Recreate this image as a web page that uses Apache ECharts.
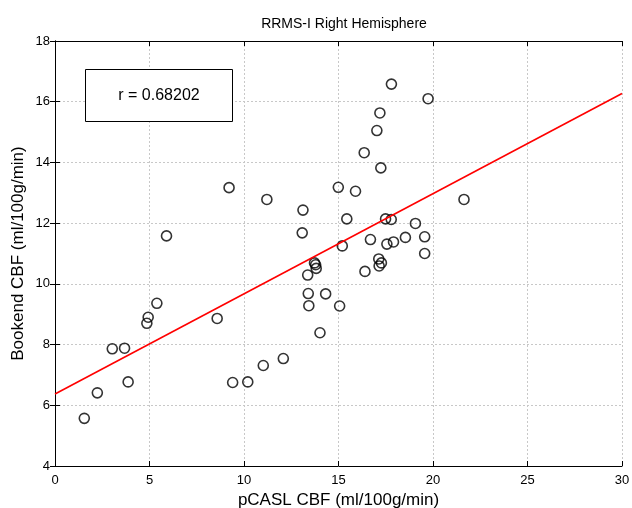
<!DOCTYPE html>
<html>
<head>
<meta charset="utf-8">
<script src="https://cdn.jsdelivr.net/npm/echarts@6/dist/echarts.min.js"></script>
<style>html,body{margin:0;padding:0;background:#fff}#c{width:632px;height:508px}</style>
</head>
<body>
<div id="c"></div>
<script>
var pcaslX = [1.55, 2.24, 3.03, 3.68, 3.87, 4.86, 4.93, 5.39, 5.90, 8.58, 9.40, 9.21, 10.20, 11.02, 11.21, 12.08,
  13.12, 13.08, 13.37, 13.40, 13.43, 13.73, 13.79, 13.82, 14.02, 14.32, 14.99, 15.06, 15.20, 15.44, 15.90,
  16.36, 16.40, 16.69, 17.03, 17.13, 17.15, 17.19, 17.24, 17.27, 17.49, 17.56, 17.79, 17.80, 17.91, 18.54,
  19.07, 19.56, 19.56, 19.74, 21.64];
var bookendY = [5.57, 6.41, 7.86, 7.88, 6.77, 8.70, 8.90, 9.36, 11.58, 8.86, 6.75, 13.17, 6.77, 7.31, 12.78, 7.54,
  12.43, 11.68, 10.29, 9.68, 9.28, 10.69, 10.63, 10.51, 8.39, 9.67, 13.18, 9.27, 11.25, 12.14, 13.05,
  14.32, 10.41, 11.46, 15.05, 10.82, 10.59, 15.63, 13.82, 10.69, 12.14, 11.31, 12.12, 16.58, 11.38, 11.53,
  11.99, 11.55, 11.00, 16.10, 12.78];
var fitX = [0, 30];
var fitY = [6.37, 16.27];
var xTicks = [0, 5, 10, 15, 20, 25, 30];
var yTicks = [4, 6, 8, 10, 12, 14, 16, 18];
var rLabel = 'r = 0.68202';

var font = 'Liberation Sans, Arial, sans-serif';
var pts = pcaslX.map(function (x, i) { return [x, bookendY[i]]; });
var fit = fitX.map(function (x, i) { return [x, fitY[i]]; });

var chart = echarts.init(document.getElementById('c'));
var gridLeft = 55, gridTop = 41, gridRight = 10, gridBottom = 42;
var axisBase = {
  type: 'value',
  axisLine: { show: true, lineStyle: { color: '#000', width: 1 } },
  axisTick: { show: true, inside: true, length: 5, lineStyle: { color: '#000' } },
  splitLine: { show: false },
  axisLabel: { show: false }
};
chart.setOption({
  backgroundColor: '#fff',
  animation: false,
  title: {
    text: 'RRMS-I Right Hemisphere',
    left: 339, top: 12, textAlign: 'center',
    textStyle: { fontFamily: font, fontSize: 14, fontWeight: 'normal', color: '#000' }
  },
  grid: { left: gridLeft, top: gridTop, right: gridRight, bottom: gridBottom, containLabel: false, outerBoundsMode: 'none' },
  xAxis: [
    Object.assign({}, axisBase, {
      min: 0, max: 30, interval: 5, position: 'bottom',
      axisLabel: { show: true, fontFamily: font, fontSize: 13, color: '#000', margin: 8,
        formatter: function (v) { return xTicks.indexOf(v) >= 0 ? String(v) : ''; } },
      splitLine: { show: true, lineStyle: { color: '#c8c8c8', type: [2, 2], width: 1 } },
      name: 'pCASL CBF (ml/100g/min)', nameLocation: 'middle', nameGap: 24,
      nameTextStyle: { fontFamily: font, fontSize: 17, color: '#000' }
    }),
    Object.assign({}, axisBase, { min: 0, max: 30, interval: 5, position: 'top' })
  ],
  yAxis: [
    Object.assign({}, axisBase, {
      min: 4, max: 18, interval: 2, position: 'left',
      axisLabel: { show: true, fontFamily: font, fontSize: 13, color: '#000', margin: 5,
        formatter: function (v) { return yTicks.indexOf(v) >= 0 ? String(v) : ''; } },
      splitLine: { show: true, lineStyle: { color: '#c8c8c8', type: [2, 2], width: 1 } },
      name: 'Bookend CBF (ml/100g/min)', nameLocation: 'middle', nameGap: 28, nameMoveOverlap: false,
      nameTextStyle: { fontFamily: font, fontSize: 17, color: '#000' }
    }),
    Object.assign({}, axisBase, { min: 4, max: 18, interval: 2, position: 'right' })
  ],
  graphic: [{
    type: 'group', left: 85, top: 69,
    children: [
      { type: 'rect', shape: { x: 0, y: 0, width: 147, height: 52 },
        style: { fill: '#fff', stroke: '#000', lineWidth: 1 }, z: 100 },
      { type: 'text', x: 73.5, y: 26, z: 101,
        style: { text: rLabel, fontFamily: font, fontSize: 16, fill: '#000', align: 'center', verticalAlign: 'middle' } }
    ]
  }],
  series: [
    {
      type: 'scatter', data: pts, symbol: 'circle', symbolSize: 10,
      itemStyle: { color: 'rgba(0,0,0,0)', borderColor: '#000', borderWidth: 1.6 },
      z: 3
    },
    {
      type: 'line', data: fit, symbol: 'none',
      lineStyle: { color: '#ff0000', width: 1.6 }, z: 4
    }
  ]
});
</script>
</body>
</html>
